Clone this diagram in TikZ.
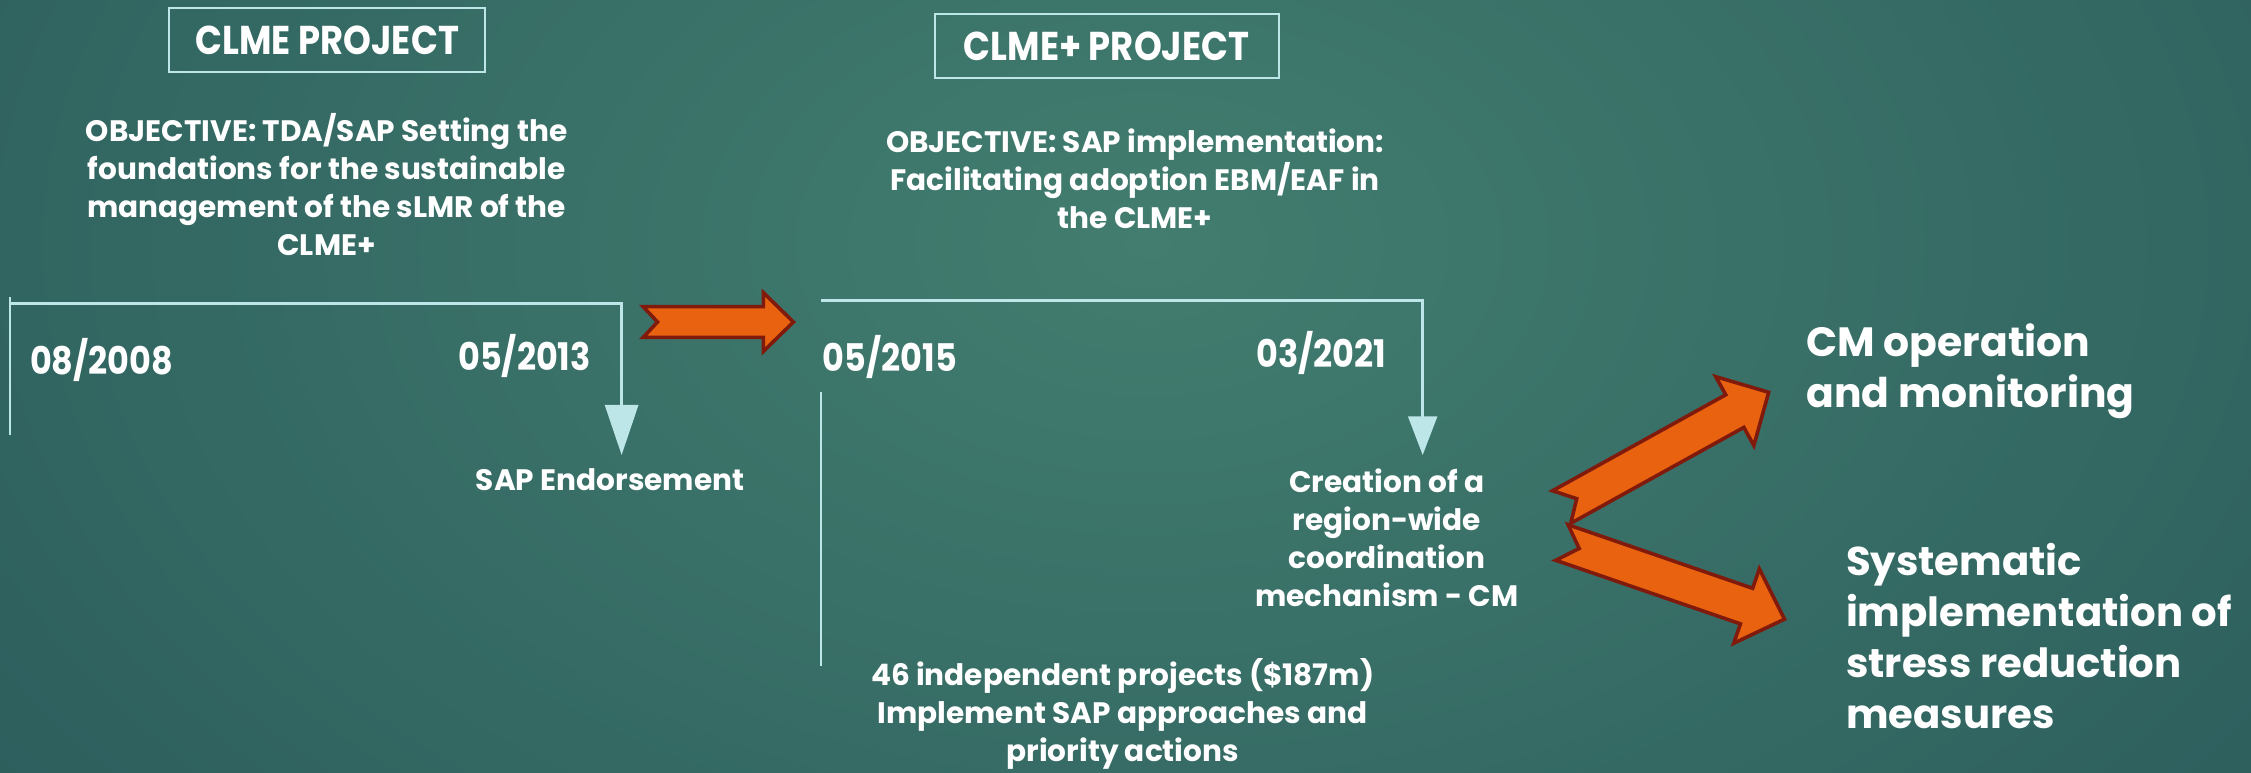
\documentclass[tikz,border=0pt]{standalone}
\usepackage{fontspec}
\setmainfont{Poppins}
\newfontfamily\narrowfont{Poppins}[FakeStretch=0.88]
\usetikzlibrary{arrows.meta}
\definecolor{bginner}{HTML}{427D6F}
\definecolor{bgouter}{HTML}{17404B}
\definecolor{tline}{HTML}{BDE6E9}
\definecolor{orfill}{HTML}{E8620F}
\definecolor{ordraw}{HTML}{801A0C}
\tikzset{
  every node/.style={text=white, inner sep=0pt},
  projbox/.style={draw=tline, line width=1.4pt, minimum height=45pt, font=\narrowfont\fontsize{28}{30}\selectfont\bfseries},
  objtext/.style={align=center, font=\fontsize{20.6}{26.5}\selectfont\bfseries},
  datetext/.style={font=\narrowfont\fontsize{26.5}{30}\selectfont\bfseries},
  bigtext/.style={align=left, font=\fontsize{28.5}{35.5}\selectfont\bfseries},
  tl/.style={draw=tline, line width=2.2pt},
  tlthin/.style={draw=tline, line width=1.4pt},
  orarrow/.style={fill=orfill, draw=ordraw, line width=2.5pt, line join=miter},
}
% #1 x, #2 y (tail centre), #3 angle, #4 length, #5 shaft half width, #6 head half width, #7 head length, #8 notch depth
\newcommand\orblockarrow[8]{%
  \begin{scope}[shift={(#1,#2)}, rotate=#3]
    \draw[orarrow] (0,-#5) -- (#4-#7,-#5) -- (#4-#7,-#6) -- (#4,0) -- (#4-#7,#6) -- (#4-#7,#5) -- (0,#5) -- (#8,0) -- cycle;
  \end{scope}}
\begin{document}
\begin{tikzpicture}[x=1pt,y=-1pt]
\useasboundingbox (0,0) rectangle (1568,538);
\fill[bgouter] (0,0) rectangle (1568,538);
\begin{scope}
  \clip (0,0) rectangle (1568,538);
  \shade[inner color=bginner, outer color=bgouter] (800,170) ellipse (2000 and 1300);
\end{scope}

% project boxes
\node[projbox, minimum width=220pt] (clme) at (228,27.8) {CLME PROJECT};
\node[projbox, minimum width=239.6pt] (clmep) at (770.8,32) {CLME+ PROJECT};

% objectives (anchor base = baseline of last line)
\node[objtext, anchor=base] (obj1) at (227.5,178.2) {OBJECTIVE: TDA/SAP Setting the\\foundations for the sustainable\\management of the sLMR of the\\CLME+};
\node[objtext, anchor=base] (obj2) at (790.7,159) {OBJECTIVE: SAP implementation:\\Facilitating adoption EBM/EAF in\\the CLME+};

% dates
\node[datetext, anchor=base west] (d1) at (20.7,261) {08/2008};
\node[datetext, anchor=base west] (d2) at (319,258) {05/2013};
\node[datetext, anchor=base west] (d3) at (573,259) {05/2015};
\node[datetext, anchor=base west] (d4) at (875,256) {03/2021};

% outcomes
\node[objtext, anchor=base] (sap) at (425,342) {SAP Endorsement};
\node[objtext, anchor=base] (cm) at (966,422.5) {Creation of a\\region-wide\\coordination\\mechanism - CM};
\node[objtext, anchor=base] (indep) at (782,530.5) {46 independent projects (\$187m)\\Implement SAP approaches and\\priority actions};
\node[bigtext, anchor=base west] (cmop) at (1258,284) {CM operation\\and monitoring};
\node[bigtext, anchor=base west, font=\fontsize{28}{35.5}\selectfont\bfseries] (syst) at (1285.7,507.5) {Systematic\\implementation of\\stress reduction\\measures};

% timeline 1
\coordinate (t1a) at (7.3,211.5);
\coordinate (t1b) at (433,211.5);
\coordinate (t1tip) at (433,317);
\coordinate (t1l1) at (7.3,207);
\coordinate (t1l2) at (7.3,303);
\draw[tlthin] (t1l1) -- (t1l2);
\draw[tl, -{Triangle[length=35pt,width=23pt]}] (t1a) -- (t1b) -- (t1tip);

% timeline 2
\coordinate (t2a) at (572,209.5);
\coordinate (t2b) at (991,209.5);
\coordinate (t2tip) at (991,317);
\coordinate (t2l1) at (572,272.8);
\coordinate (t2l2) at (572,464);
\draw[tlthin] (t2l1) -- (t2l2);
\draw[tl, -{Triangle[length=27pt,width=20pt]}] (t2a) -- (t2b) -- (t2tip);

% orange block arrows
\orblockarrow{448}{224.3}{0}{104.7}{10.7}{20.5}{21}{10}
\orblockarrow{1087.8}{353.2}{29}{164.9}{13}{27.4}{27}{12}
\orblockarrow{1088}{377.9}{-19}{164}{13.1}{27.4}{28}{12.7}
\end{tikzpicture}
\end{document}
